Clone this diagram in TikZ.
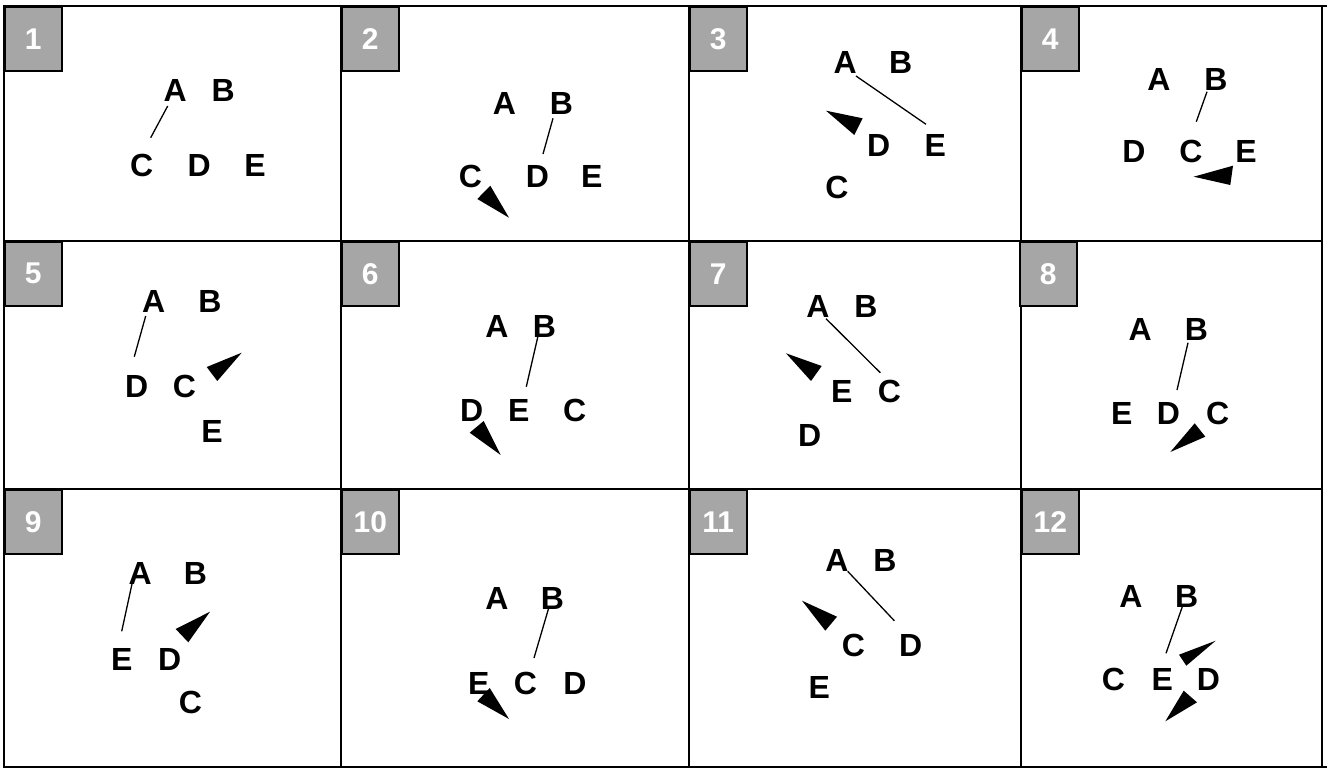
\documentclass[tikz,border=0pt]{standalone}
\usepackage{fontspec}
\setmainfont{Liberation Sans}
\definecolor{boxgray}{RGB}{166,166,166}
\begin{document}
\begin{tikzpicture}[x=1pt,y=-1pt,
  lt/.style={font=\fontsize{32}{32}\selectfont\bfseries, inner sep=0pt},
  numbox/.style={draw=black, line width=1.6pt, fill=boxgray, minimum width=57pt, minimum height=64pt,
     anchor=north west, inner sep=0pt, text=white, font=\fontsize{30}{30}\selectfont\bfseries},
  gridline/.style={line width=1.8pt, line cap=rect},
  conn/.style={line width=1.3pt},
  tri/.style={fill=black}]
\useasboundingbox (0,0) rectangle (1327,772);
\fill[white] (0,0) rectangle (1327,772);
% grid
\draw[gridline] (4,6) -- (1327,6);
\draw[gridline] (4,241) -- (1322,241);
\draw[gridline] (4,489) -- (1322,489);
\draw[gridline] (4,767) -- (1327,767);
\foreach \xx in {4,341,689,1021,1322} \draw[gridline] (\xx,6) -- (\xx,767);
% number boxes
\node[numbox] (n1) at (4,6) {1};
\node[numbox] (n2) at (341,6) {2};
\node[numbox] (n3) at (689,6) {3};
\node[numbox] (n4) at (1021,6) {4};
\node[numbox] (n5) at (4,241) {5};
\node[numbox] (n6) at (341,241) {6};
\node[numbox] (n7) at (689,241) {7};
\node[numbox] (n8) at (1019,241) {8};
\node[numbox] (n9) at (4,489) {9};
\node[numbox] (n10) at (341,489) {10};
\node[numbox] (n11) at (689,489) {11};
\node[numbox] (n12) at (1021,489) {12};
% panel 1
\node[lt] (p1A) at (175.3,90.8) {A};
\node[lt] (p1B) at (223.3,90.8) {B};
\node[lt] (p1C) at (141.7,165.8) {C};
\node[lt] (p1D) at (199.3,165.8) {D};
\node[lt] (p1E) at (255,165.8) {E};
\draw[conn] ([shift={(-7.6,15.2)}]p1A.center) -- ([shift={(9,-28.1)}]p1C.center);
% panel 2
\node[lt] (p2A) at (504.3,103.3) {A};
\node[lt] (p2B) at (561.3,103.3) {B};
\node[lt] (p2C) at (470.5,176.7) {C};
\node[lt] (p2D) at (537.3,176.7) {D};
\node[lt] (p2E) at (591.8,176.7) {E};
\draw[conn] ([shift={(-8.3,15)}]p2B.center) -- ([shift={(5.7,-22.7)}]p2D.center);
\fill[tri] (477.3,199) -- (490.3,185.7) -- (509,217.7) -- cycle;
% panel 3
\node[lt] (p3A) at (845.2,62.5) {A};
\node[lt] (p3B) at (900.7,62.5) {B};
\node[lt] (p3D) at (878.7,145) {D};
\node[lt] (p3E) at (935.2,145) {E};
\node[lt] (p3C) at (836.8,187.5) {C};
\draw[conn] ([shift={(10.8,13.5)}]p3A.center) -- ([shift={(-9.2,-20.7)}]p3E.center);
\fill[tri] (826,110.7) -- (862.7,118.3) -- (854.3,135) -- cycle;
% panel 4
\node[lt] (p4A) at (1158.8,79) {A};
\node[lt] (p4B) at (1216,79) {B};
\node[lt] (p4D) at (1134,151.7) {D};
\node[lt] (p4C) at (1190.8,151.7) {C};
\node[lt] (p4E) at (1246,151.7) {E};
\draw[conn] ([shift={(-9,12.7)}]p4B.center) -- ([shift={(5.5,-30)}]p4C.center);
\fill[tri] (1193.7,176.7) -- (1233,165.7) -- (1230.3,185) -- cycle;
% panel 5
\node[lt] (p5A) at (153.7,301.5) {A};
\node[lt] (p5B) at (210,301.5) {B};
\node[lt] (p5D) at (136.7,386.8) {D};
\node[lt] (p5C) at (184.5,386.8) {C};
\node[lt] (p5E) at (212,431) {E};
\draw[conn] ([shift={(-8,14.5)}]p5A.center) -- ([shift={(-2.4,-30.1)}]p5D.center);
\fill[tri] (206.7,367) -- (241.7,352.7) -- (217.3,381) -- cycle;
% panel 6
\node[lt] (p6A) at (496.8,326) {A};
\node[lt] (p6B) at (544.3,326) {B};
\node[lt] (p6D) at (471.7,410.2) {D};
\node[lt] (p6E) at (518.8,410.2) {E};
\node[lt] (p6C) at (574.7,410.2) {C};
\draw[conn] ([shift={(-6.3,10)}]p6B.center) -- ([shift={(7.5,-23.5)}]p6E.center);
\fill[tri] (469.7,432.7) -- (483.7,421) -- (500.7,455) -- cycle;
% panel 7
\node[lt] (p7A) at (817.8,306.8) {A};
\node[lt] (p7B) at (866,306.8) {B};
\node[lt] (p7E) at (841.8,391.8) {E};
\node[lt] (p7C) at (889.3,391.8) {C};
\node[lt] (p7D) at (809.7,435.2) {D};
\draw[conn] ([shift={(8.2,11.9)}]p7A.center) -- ([shift={(-9,-19.1)}]p7C.center);
\fill[tri] (786,353.3) -- (821.7,366) -- (811,381) -- cycle;
% panel 8
\node[lt] (p8A) at (1140.2,329.3) {A};
\node[lt] (p8B) at (1196.3,329.3) {B};
\node[lt] (p8E) at (1121.8,413.5) {E};
\node[lt] (p8D) at (1168.3,413.5) {D};
\node[lt] (p8C) at (1217.7,413.5) {C};
\draw[conn] ([shift={(-8.3,13.4)}]p8B.center) -- ([shift={(8.7,-23.5)}]p8D.center);
\fill[tri] (1170.3,452) -- (1194.7,423.3) -- (1205.3,436.7) -- cycle;
% panel 9
\node[lt] (p9A) at (140.3,573.2) {A};
\node[lt] (p9B) at (195.5,573.2) {B};
\node[lt] (p9E) at (121.7,659.8) {E};
\node[lt] (p9D) at (169.7,659.8) {D};
\node[lt] (p9C) at (190.5,702.8) {C};
\draw[conn] ([shift={(-7.6,7.5)}]p9A.center) -- ([shift={(0,-28.5)}]p9E.center);
\fill[tri] (175.7,629) -- (210,611.7) -- (188.3,642.3) -- cycle;
% panel 10
\node[lt] (p10A) at (496.8,598.2) {A};
\node[lt] (p10B) at (552.5,598.2) {B};
\node[lt] (p10E) at (478.8,683.2) {E};
\node[lt] (p10C) at (525.5,683.2) {C};
\node[lt] (p10D) at (575,683.2) {D};
\draw[conn] ([shift={(-3.8,9.8)}]p10B.center) -- ([shift={(8.5,-25.2)}]p10C.center);
\fill[tri] (477.3,701.3) -- (489.7,688) -- (509,719) -- cycle;
% panel 11
\node[lt] (p11A) at (836.8,560.2) {A};
\node[lt] (p11B) at (885,560.2) {B};
\node[lt] (p11C) at (853.5,645.3) {C};
\node[lt] (p11D) at (910.7,645.3) {D};
\node[lt] (p11E) at (819.2,687.8) {E};
\draw[conn] ([shift={(10.9,11.1)}]p11A.center) -- ([shift={(-16.4,-24.6)}]p11D.center);
\fill[tri] (802,600.7) -- (837,616.7) -- (825.3,630.7) -- cycle;
% panel 12
\node[lt] (p12A) at (1130.8,596.2) {A};
\node[lt] (p12B) at (1186.7,596.2) {B};
\node[lt] (p12C) at (1113.5,679.8) {C};
\node[lt] (p12E) at (1162.2,679.8) {E};
\node[lt] (p12D) at (1208.5,679.8) {D};
\draw[conn] ([shift={(-4.4,10.5)}]p12B.center) -- ([shift={(3.8,-26.5)}]p12E.center);
\fill[tri] (1179,654.7) -- (1215.7,640.7) -- (1186.3,665.7) -- cycle;
\fill[tri] (1165.3,721.3) -- (1183.7,690.7) -- (1197,702.3) -- cycle;
\end{tikzpicture}
\end{document}
